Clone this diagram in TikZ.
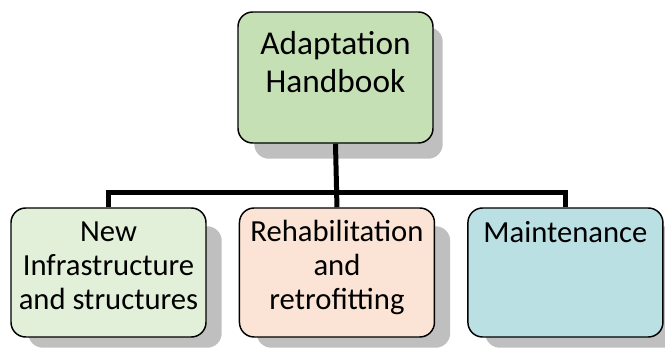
\documentclass[tikz,border=0pt]{standalone}
\usepackage{fontspec}
\setmainfont{Carlito}
\usetikzlibrary{positioning}
\usetikzlibrary{backgrounds}

\definecolor{topgreen}{RGB}{197,224,180}
\definecolor{lightgreen}{RGB}{226,239,217}
\definecolor{peach}{RGB}{251,228,213}
\definecolor{paleblue}{RGB}{186,224,228}

\tikzset{
  box/.style={draw=black, line width=1.1pt, rounded corners=11pt, minimum width=146.25pt, minimum height=96.75pt, inner sep=0pt},
  boxtext/.style={anchor=base, align=center, inner sep=0pt, font=\fontsize{23}{25.5}\selectfont},
  boxshadow/.style={fill=black, opacity=0.25, rounded corners=11pt},
  conn/.style={line width=3.75pt},
}

\begin{document}
\begin{tikzpicture}[x=0.75pt,y=-0.75pt]
\useasboundingbox (0,0) rectangle (665,349);

% boxes
\node[box, fill=topgreen, minimum height=98.25pt] (hb) at (335.5,77.5) {};
\node[box, fill=lightgreen] (newinf) at (108.5,272.5) {};
\node[box, fill=peach, right=24pt of newinf] (rehab) {};
\node[box, fill=paleblue, right=24pt of rehab] (maint) {};

% texts (base = last line)
\node[boxtext, font=\fontsize{25}{28.5}\selectfont] (hbtext) at ([shift={(0,81)}]hb.north) {Adaptation\\Handbook};
\node[boxtext] (newinftext) at ([shift={(0,102)}]newinf.north) {New\\Infrastructure\\and structures};
\node[boxtext] (rehabtext) at ([shift={(0,102)}]rehab.north) {Rehabilitation\\and\\retrofitting};
\node[boxtext] (mainttext) at ([shift={(0,35)}]maint.north) {Maintenance};

\begin{scope}[on background layer]
% connectors
\coordinate (bus) at (335.5,193);
\draw[conn] (hb.south) -- (rehab.north);
\draw[conn] (newinf.north) |- (bus) -| (maint.north);

% shadows
\fill[boxshadow] ([shift={(17,16)}]hb.north west) rectangle ([shift={(9,15)}]hb.south east);
\foreach \b in {newinf,rehab,maint}
  \fill[boxshadow] ([shift={(18,19)}]\b.north west) rectangle ([shift={(15,10)}]\b.south east);
\end{scope}
\end{tikzpicture}
\end{document}
